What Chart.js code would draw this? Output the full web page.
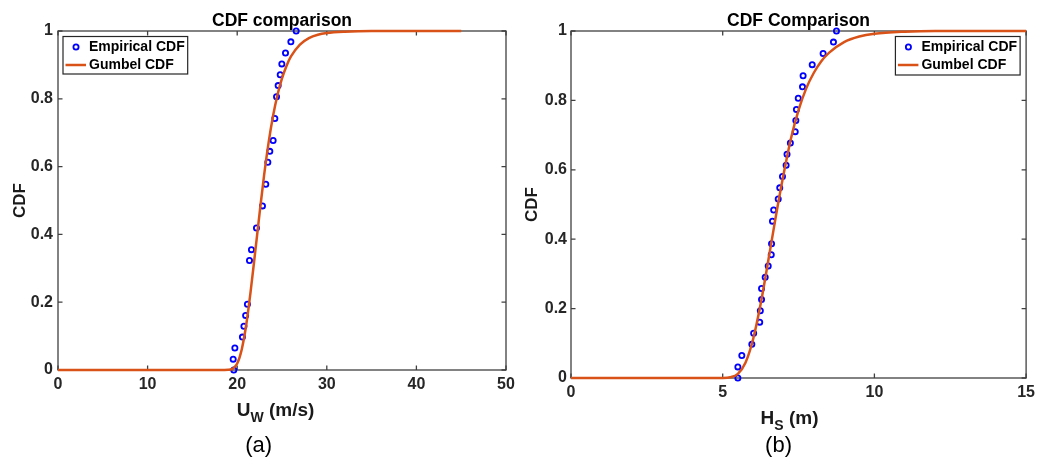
<!DOCTYPE html>
<html>
<head>
<meta charset="utf-8">
<script src="https://cdn.jsdelivr.net/npm/chart.js@4.4.1/dist/chart.umd.min.js"></script>
<style>
  body { margin: 0; background: #fff; }
  .panel { position: absolute; top: 0; width: 520px; height: 457px; }
  canvas { display: block; }
</style>
</head>
<body>
<div class="panel" style="left:0"><canvas id="windChart" width="520" height="457"></canvas></div>
<div class="panel" style="left:520px"><canvas id="waveChart" width="520" height="457"></canvas></div>
<script>
// (a) wind speed: empirical CDF points and fitted Gumbel CDF
var windEmpX = [19.62, 19.55, 19.74, 20.58, 20.75, 20.94, 21.14, 21.37, 21.59, 22.15, 22.82, 23.19, 23.42, 23.64, 24.01, 24.20, 24.39, 24.57, 24.80, 24.98, 25.39, 25.99, 26.58];
var windEmpY = [0, 0.032, 0.065, 0.097, 0.129, 0.161, 0.194, 0.323, 0.355, 0.419, 0.484, 0.548, 0.613, 0.645, 0.677, 0.742, 0.806, 0.839, 0.871, 0.903, 0.935, 0.968, 1];
var windGumbelX = [0, 18, 19, 19.5, 20, 20.5, 21, 21.5, 22, 22.5, 23, 23.5, 24, 24.5, 25, 25.5, 26, 27, 28, 29, 30, 32, 35, 45];
var windGumbelY = [0, 0, 0.0005, 0.004, 0.019, 0.060, 0.132, 0.232, 0.346, 0.463, 0.574, 0.670, 0.749, 0.812, 0.860, 0.897, 0.925, 0.960, 0.979, 0.989, 0.994, 0.998, 1, 1];

// (b) significant wave height
var waveEmpX = [5.50, 5.50, 5.63, 5.96, 6.02, 6.22, 6.24, 6.28, 6.28, 6.40, 6.50, 6.60, 6.61, 6.64, 6.68, 6.83, 6.88, 6.97, 7.09, 7.12, 7.23, 7.39, 7.41, 7.43, 7.49, 7.63, 7.65, 7.95, 8.31, 8.65, 8.75];
var waveEmpY = [0, 0.032, 0.065, 0.097, 0.129, 0.161, 0.194, 0.226, 0.258, 0.290, 0.323, 0.355, 0.387, 0.452, 0.484, 0.516, 0.548, 0.581, 0.613, 0.645, 0.677, 0.710, 0.742, 0.774, 0.806, 0.839, 0.871, 0.903, 0.935, 0.968, 1];
var waveGumbelX = [0, 4.5, 5, 5.25, 5.5, 5.75, 6, 6.25, 6.5, 6.75, 7, 7.25, 7.5, 7.75, 8, 8.25, 8.5, 9, 9.5, 10, 11, 12, 15];
var waveGumbelY = [0, 0, 0.0001, 0.002, 0.012, 0.044, 0.111, 0.213, 0.337, 0.465, 0.584, 0.690, 0.772, 0.834, 0.879, 0.913, 0.937, 0.968, 0.984, 0.992, 0.998, 1, 1];

var windTicksX = [0, 10, 20, 30, 40, 50];
var waveTicksX = [0, 5, 10, 15];
var cdfTicks = [0, 0.2, 0.4, 0.6, 0.8, 1];

var seriesNames = ['Empirical CDF', 'Gumbel CDF'];

Chart.defaults.font.family = "'Liberation Sans', Arial, sans-serif";

function pairs(xs, ys) {
  return xs.map(function (x, i) { return { x: x, y: ys[i] }; });
}

// box, inward ticks, legend, subscripted x label and panel letter
var matlabFrame = {
  id: 'matlabFrame',
  beforeDatasetsDraw: function (chart) {
    var ctx = chart.ctx, a = chart.chartArea;
    var xs = chart.scales.x, ys = chart.scales.y;
    ctx.save();
    ctx.strokeStyle = '#404040';
    ctx.lineWidth = 1.3;
    ctx.strokeRect(a.left, a.top, a.right - a.left, a.bottom - a.top);
    ctx.beginPath();
    xs.ticks.forEach(function (t) {
      var px = xs.getPixelForValue(t.value);
      ctx.moveTo(px, a.bottom); ctx.lineTo(px, a.bottom - 4.5);
      ctx.moveTo(px, a.top); ctx.lineTo(px, a.top + 4.5);
    });
    ys.ticks.forEach(function (t) {
      var py = ys.getPixelForValue(t.value);
      ctx.moveTo(a.left, py); ctx.lineTo(a.left + 4.5, py);
      ctx.moveTo(a.right, py); ctx.lineTo(a.right - 4.5, py);
    });
    ctx.stroke();
    ctx.restore();
  },
  afterDraw: function (chart, args, opts) {
    var ctx = chart.ctx, a = chart.chartArea;
    var pts = chart.data.datasets[0], line = chart.data.datasets[1];
    ctx.save();

    // legend
    ctx.font = 'bold 14px ' + Chart.defaults.font.family;
    var tw = Math.max(ctx.measureText(pts.label).width, ctx.measureText(line.label).width);
    var w = 26 + tw + 3, h = opts.legendHeight;
    var bx = opts.legendSide === 'left' ? a.left + 5 : a.right - 6 - w;
    var by = a.top + 5.5;
    ctx.fillStyle = '#fff';
    ctx.fillRect(bx, by, w, h);
    ctx.strokeStyle = '#262626';
    ctx.lineWidth = 1.2;
    ctx.strokeRect(bx, by, w, h);
    ctx.beginPath();
    ctx.arc(bx + 13, by + 10.5, pts.pointRadius, 0, Math.PI * 2);
    ctx.strokeStyle = pts.borderColor;
    ctx.lineWidth = pts.borderWidth;
    ctx.stroke();
    ctx.beginPath();
    ctx.moveTo(bx + 2.5, by + 28.5);
    ctx.lineTo(bx + 23, by + 28.5);
    ctx.strokeStyle = line.borderColor;
    ctx.lineWidth = line.borderWidth;
    ctx.stroke();
    ctx.fillStyle = '#000';
    ctx.textBaseline = 'middle';
    ctx.textAlign = 'left';
    ctx.fillText(pts.label, bx + 26, by + 10.5);
    ctx.fillText(line.label, bx + 26, by + 28.5);

    // x label with subscript
    var mainFont = 'bold 19px ' + Chart.defaults.font.family;
    var subFont = 'bold 14px ' + Chart.defaults.font.family;
    var lab = opts.xLabel;
    ctx.font = mainFont;
    var w0 = ctx.measureText(lab[0]).width, w2 = ctx.measureText(lab[2]).width;
    ctx.font = subFont;
    var w1 = ctx.measureText(lab[1]).width;
    var x0 = (a.left + a.right) / 2 - (w0 + w1 + w2) / 2 + opts.xLabelShift;
    var base = a.bottom + 46;
    ctx.textBaseline = 'alphabetic';
    ctx.fillStyle = '#1a1a1a';
    ctx.font = mainFont;
    ctx.fillText(lab[0], x0, base);
    ctx.font = subFont;
    ctx.fillText(lab[1], x0 + w0, base + 6);
    ctx.font = mainFont;
    ctx.fillText(lab[2], x0 + w0 + w1, base);

    // panel letter
    ctx.font = '22px ' + Chart.defaults.font.family;
    ctx.fillStyle = '#000';
    ctx.textAlign = 'center';
    ctx.textBaseline = 'middle';
    ctx.fillText(opts.caption, (a.left + a.right) / 2 + opts.captionShift, 446);
    ctx.restore();
  }
};

function makeChart(id, cfg) {
  var tickFont = { size: 16, weight: 'bold' };
  return new Chart(document.getElementById(id), {
    type: 'scatter',
    data: {
      datasets: [
        {
          label: seriesNames[0],
          data: pairs(cfg.empX, cfg.empY),
          pointStyle: 'circle',
          pointRadius: 2.6,
          pointBorderWidth: 1.8,
          borderWidth: 1.8,
          borderColor: '#0000ff',
          pointBorderColor: '#0000ff',
          pointBackgroundColor: 'rgba(255,255,255,0)',
          clip: false,
          order: 2
        },
        {
          label: seriesNames[1],
          data: pairs(cfg.fitX, cfg.fitY),
          showLine: true,
          pointRadius: 0,
          borderColor: '#d95319',
          borderWidth: 2.5,
          cubicInterpolationMode: 'monotone',
          clip: false,
          order: 1
        }
      ]
    },
    options: {
      responsive: false,
      animation: false,
      events: [],
      layout: { padding: { left: 0, top: 0, bottom: 0, right: cfg.padRight } },
      plugins: {
        legend: { display: false },
        tooltip: { enabled: false },
        title: {
          display: true,
          text: cfg.title,
          fullSize: false,
          color: '#000',
          font: { size: 17.5, weight: 'bold', lineHeight: 1 },
          padding: { top: 12, bottom: 1.5 }
        },
        matlabFrame: {
          legendSide: cfg.legendSide,
          legendHeight: cfg.legendHeight,
          xLabel: cfg.xLabel,
          xLabelShift: cfg.xLabelShift,
          caption: cfg.caption,
          captionShift: cfg.captionShift
        }
      },
      scales: {
        x: {
          type: 'linear',
          min: cfg.ticksX[0],
          max: cfg.ticksX[cfg.ticksX.length - 1],
          grid: { display: false, drawTicks: false },
          border: { display: false },
          afterBuildTicks: function (s) { s.ticks = cfg.ticksX.map(function (v) { return { value: v }; }); },
          afterFit: function (s) { s.height = cfg.xAxisHeight; },
          ticks: { color: '#262626', font: tickFont, padding: 5, maxRotation: 0,
                   callback: function (v) { return String(v); } }
        },
        y: {
          type: 'linear',
          min: 0,
          max: 1,
          grid: { display: false, drawTicks: false },
          border: { display: false },
          afterBuildTicks: function (s) { s.ticks = cdfTicks.map(function (v) { return { value: v }; }); },
          afterFit: function (s) { s.width = cfg.yAxisWidth; },
          ticks: { color: '#262626', font: tickFont, padding: cfg.yTickPad,
                   callback: function (v) { return String(v); } },
          title: {
            display: true,
            text: 'CDF',
            color: '#1a1a1a',
            font: { size: 17, weight: 'bold' },
            padding: { top: cfg.yTitlePad, bottom: 0 }
          }
        }
      }
    },
    plugins: [matlabFrame]
  });
}

makeChart('windChart', {
  title: 'CDF comparison',
  empX: windEmpX, empY: windEmpY, fitX: windGumbelX, fitY: windGumbelY,
  ticksX: windTicksX,
  padRight: 14, xAxisHeight: 87, yAxisWidth: 58, yTickPad: 5, yTitlePad: 10,
  legendSide: 'left', legendHeight: 37.5,
  xLabel: ['U', 'W', ' (m/s)'], xLabelShift: -6.5,
  caption: '(a)', captionShift: -23.3
});

makeChart('waveChart', {
  title: 'CDF Comparison',
  empX: waveEmpX, empY: waveEmpY, fitX: waveGumbelX, fitY: waveGumbelY,
  ticksX: waveTicksX,
  padRight: 11, xAxisHeight: 79, yAxisWidth: 51, yTickPad: 4, yTitlePad: 2.5,
  legendSide: 'right', legendHeight: 38.5,
  xLabel: ['H', 'S', ' (m)'], xLabelShift: -9,
  caption: '(b)', captionShift: -20
});
</script>
</body>
</html>
